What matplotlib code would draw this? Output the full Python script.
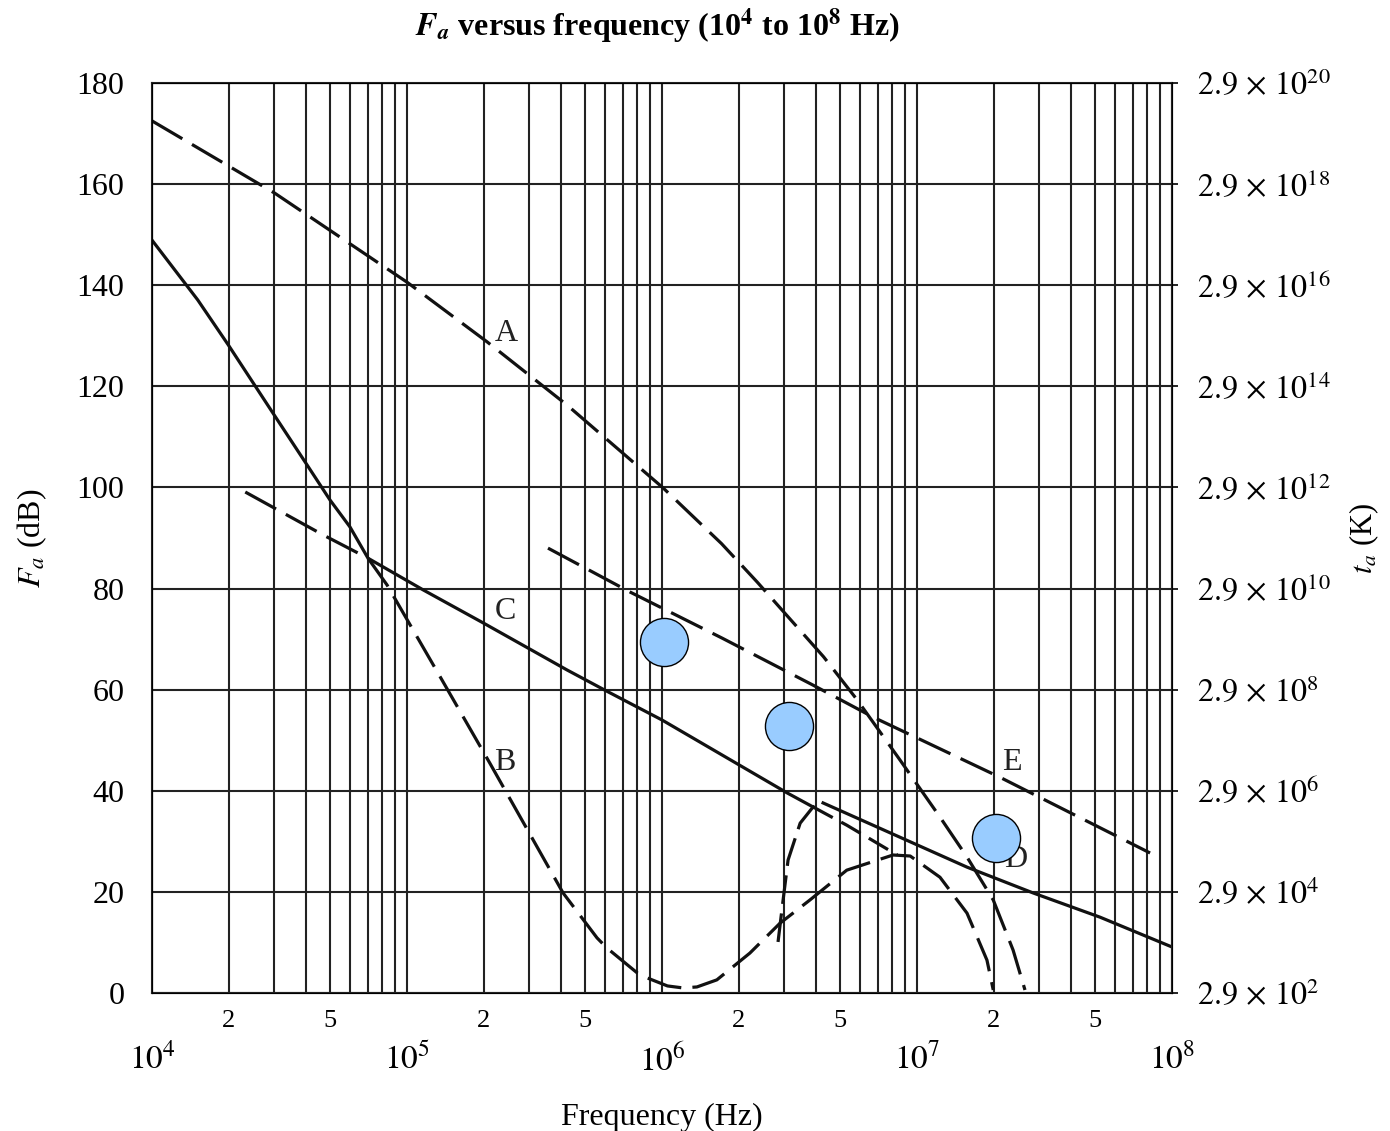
import math
import matplotlib
matplotlib.use('Agg')
import matplotlib.pyplot as plt
from matplotlib.ticker import FixedLocator, FuncFormatter

plt.rcParams['font.family'] = ['Liberation Serif', 'DejaVu Serif']
plt.rcParams['mathtext.fontset'] = 'stix'

# curve A : atmospheric noise, exceeded 0.5 % of time (dashed)
freq_A = [1e4, 3.03e4, 1e5, 2.06e5, 4.24e5, 1.01e6, 1.71e6, 2.36e6, 4.3e6, 5.82e6,
          8.57e6, 1.23e7, 1.57e7, 1.99e7, 2.38e7, 2.65e7]
fa_A = [172.5, 158.2, 140.6, 128.8, 116.3, 99.9, 88.9, 81.3, 66.5, 58.0,
        46.1, 34.8, 26.9, 18.4, 8.5, 0.6]

# curve B : atmospheric noise, exceeded 99.5 % of time (dashed)
freq_B = [2.32e4, 4.69e4, 7.03e4, 8.35e4, 1.35e5, 2.11e5, 4.09e5, 5.56e5,
          6.08e5, 7.98e5, 8.73e5, 1.05e6, 1.21e6, 1.37e6, 1.64e6, 2.21e6, 2.9e6,
          3.8e6, 5.3e6, 8.05e6, 9.4e6, 1.23e7, 1.57e7, 1.88e7, 1.99e7]
fa_B = [99.1, 90.6, 86.0, 80.7, 62.5, 45.5, 19.8, 10.9,
        8.9, 4.0, 3.0, 1.4, 1.0, 1.2, 2.6, 7.9, 13.8,
        18.4, 24.3, 27.3, 27.1, 22.9, 15.8, 6.5, 0.6]

# curve C : man-made noise, quiet site (solid, lower envelope at low freq)
freq_C = [1e4, 1.51e4, 1.99e4, 2.98e4, 4.06e4, 4.99e4, 5.97e4, 7.03e4,
          1.16e5, 1.99e5, 4.24e5, 5.97e5, 1e6, 3.09e6, 3.91e6]
fa_C = [148.9, 137.1, 128.2, 114.7, 104.4, 97.5, 92.2, 86.0,
        79.7, 73.2, 63.9, 59.9, 54.0, 39.6, 36.8]
freq_C_ext = [3.91e6, 5.3e6, 8.36e6]
fa_C_ext = [36.8, 33.2, 27.3]

# curve D : galactic noise (dashed rise, then solid)
freq_D_rise = [2.85e6, 2.96e6, 3.12e6, 3.48e6, 3.91e6, 4.28e6]
fa_D_rise = [10.1, 17.0, 26.3, 33.6, 36.8, 37.6]
freq_D = [4.28e6, 1.57e7, 2.85e7, 5.22e7, 1e8]
fa_D = [37.6, 24.9, 19.8, 15.0, 9.1]

# curve E : man-made noise, business area (dashed)
freq_E = [3.57e5, 7.5e5, 1.72e6, 3.91e6, 6.71e6, 2.09e7, 8.2e7]
fa_E = [88.0, 79.3, 70.2, 60.9, 54.6, 42.8, 27.7]

curve_labels = ['A', 'B', 'C', 'D', 'E']
label_freq = [2.2e5, 2.2e5, 2.2e5, 2.2e7, 2.15e7]
label_fa = [130.5, 45.5, 75.5, 26.5, 45.5]

# blue markers
dot_freq = [1.02e6, 3.15e6, 2.04e7]
dot_fa = [69.4, 52.8, 30.7]

y_ticks = list(range(0, 181, 20))
ta_exp = list(range(2, 21, 2))

fig = plt.figure(figsize=(13.9, 11.31), dpi=100)
ax = fig.add_axes([0.1094, 0.1220, 0.7338, 0.8046])

ax.set_xscale('log')
ax.set_xlim(1e4, 1e8)
ax.set_ylim(0, 180)

lw = 2.3
dash = (11, 3.5)
ax.plot(freq_A, fa_A, color='#111111', lw=lw, dashes=dash)
ax.plot(freq_B, fa_B, color='#111111', lw=lw, dashes=dash)
ax.plot(freq_C, fa_C, color='#111111', lw=lw)
ax.plot(freq_C_ext, fa_C_ext, color='#111111', lw=lw, dashes=(7, 3))
ax.plot(freq_D_rise, fa_D_rise, color='#111111', lw=lw, dashes=(9, 3))
ax.plot(freq_D, fa_D, color='#111111', lw=lw)
ax.plot(freq_E, fa_E, color='#111111', lw=lw, dashes=dash)

for lab, fx, fy in zip(curve_labels, label_freq, label_fa):
    ax.text(fx, fy, lab, fontsize=23, ha='left', va='center', color='#222222')

ax.scatter(dot_freq, dot_fa, s=1200, facecolor='#99ccff', edgecolor='black',
           linewidth=1.0, zorder=5)

# ticks and grid
major = [10.0 ** e for e in range(4, 9)]
minor = [m * 10.0 ** e for e in range(4, 8) for m in range(2, 10)]
ax.xaxis.set_major_locator(FixedLocator(major))
ax.xaxis.set_minor_locator(FixedLocator(minor))
ax.xaxis.set_major_formatter(FuncFormatter(lambda v, p: r'$10^{%d}$' % round(math.log10(v))))


def minor_fmt(v, p):
    m = round(v / 10.0 ** math.floor(math.log10(v) + 1e-9))
    return str(m) if m in (2, 5) else ''


ax.xaxis.set_minor_formatter(FuncFormatter(minor_fmt))
ax.tick_params(axis='x', which='major', length=0, pad=36, labelsize=24)
ax.tick_params(axis='x', which='minor', length=0, pad=12, labelsize=19)
ax.set_yticks(y_ticks)
ax.tick_params(axis='y', length=0, pad=20, labelsize=23)
ax.grid(True, which='both', axis='x', color='#222222', lw=1.5)
ax.grid(True, which='major', axis='y', color='#222222', lw=1.5)
for s in ax.spines.values():
    s.set_color('#222222')
    s.set_linewidth(1.5)

ax2 = ax.twinx()
ax2.set_ylim(0, 180)
ax2.set_yticks(y_ticks)
ax2.set_yticklabels([r'$2.9\,\times\,10^{%d}$' % e for e in ta_exp])
ax2.tick_params(axis='y', length=4, width=1.2, pad=14, labelsize=23)
ax2.set_ylabel(r'$t_a$ (K)', fontsize=22, labelpad=12)

ax.set_xlabel('Frequency (Hz)', fontsize=23, labelpad=18)
ax.set_ylabel(r'$F_a$ (dB)', fontsize=23, labelpad=20)

fig.text(0.473, 0.977, r'$\mathbfit{F}_{\mathbfit{a}}$ versus frequency (10$^\mathbf{4}$ to 10$^\mathbf{8}$ Hz)',
         ha='center', va='center', fontsize=23, fontweight='bold')

fig.savefig('out.png', dpi=100)
